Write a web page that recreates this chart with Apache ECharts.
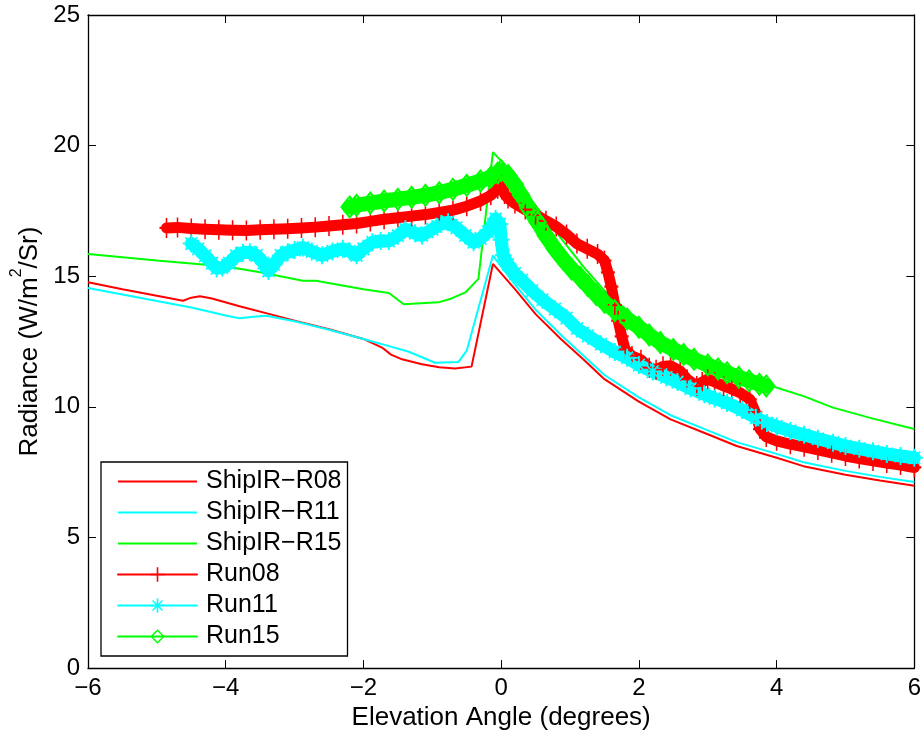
<!DOCTYPE html>
<html>
<head>
<meta charset="utf-8">
<script src="https://cdn.jsdelivr.net/npm/echarts@6/dist/echarts.min.js"></script>
<style>
html,body{margin:0;padding:0;background:#fff;}
#chart{width:924px;height:736px;}
</style>
</head>
<body>
<div id="chart"></div>
<script>
// ---- data ----
const xTicks = [-6, -4, -2, 0, 2, 4, 6];
const yTicks = [0, 5, 10, 15, 20, 25];
const seriesNames = ['ShipIR\u2212R08', 'ShipIR\u2212R11', 'ShipIR\u2212R15', 'Run08', 'Run11', 'Run15'];

const shipR08X = [-6, -5.5, -5, -4.62, -4.5, -4.375, -4.2, -3.8, -3.36, -3, -2.5, -2, -1.73, -1.6, -1.44, -1.15, -0.9, -0.67, -0.43, -0.12, 0.2, 0.5, 0.87, 1.2, 1.5, 2.0, 2.46, 3.0, 3.42, 4.0, 4.39, 5.0, 5.5, 6.0];
const shipR08Y = [14.77, 14.5, 14.25, 14.06, 14.18, 14.23, 14.15, 13.85, 13.55, 13.3, 12.97, 12.6, 12.27, 12.0, 11.82, 11.63, 11.52, 11.47, 11.54, 15.47, 14.51, 13.55, 12.59, 11.8, 11.06, 10.2, 9.52, 8.95, 8.5, 8.05, 7.73, 7.4, 7.18, 6.98];

const shipR11X = [-6, -5.5, -5, -4.5, -4, -3.8, -3.6, -3.41, -3, -2.5, -2, -1.73, -1.34, -0.96, -0.62, -0.5, -0.12, 0.2, 0.5, 0.87, 1.2, 1.5, 2.0, 2.46, 3.0, 3.42, 4.0, 4.39, 5.0, 5.5, 6.0];
const shipR11Y = [14.55, 14.3, 14.05, 13.8, 13.5, 13.39, 13.45, 13.49, 13.28, 12.95, 12.6, 12.4, 12.11, 11.69, 11.72, 12.15, 15.79, 14.68, 13.72, 12.75, 11.95, 11.22, 10.36, 9.68, 9.1, 8.65, 8.2, 7.88, 7.55, 7.32, 7.12];

const shipR15X = [-6, -5, -4, -3.5, -2.88, -2.69, -2, -1.63, -1.415, -0.91, -0.72, -0.52, -0.33, -0.12, 0.2, 0.5, 0.87, 1.2, 1.5, 2.0, 2.46, 3.0, 3.42, 3.95, 4.4, 4.82, 5.4, 6.0];
const shipR15Y = [15.85, 15.6, 15.37, 15.15, 14.83, 14.83, 14.5, 14.36, 13.93, 14.0, 14.15, 14.38, 14.9, 19.75, 18.85, 17.7, 16.45, 15.35, 14.45, 13.3, 12.45, 11.7, 11.2, 10.78, 10.4, 9.97, 9.55, 9.15];

const run08X = [-4.86, -4.7, -4.5, -4.3, -4.1, -3.9, -3.7, -3.5, -3.3, -3.1, -2.9, -2.7, -2.5, -2.3, -2.1, -1.9, -1.7, -1.5, -1.3, -1.1, -0.9, -0.7, -0.5, -0.3, -0.15, -0.05, 0.0, 0.05, 0.1, 0.2, 0.35, 0.5, 0.65, 0.8, 0.95, 1.1, 1.25, 1.4, 1.5, 1.55, 1.6, 1.65, 1.7, 1.75, 1.8, 1.9, 2.03, 2.15, 2.25, 2.35, 2.46, 2.6, 2.7, 2.84, 2.92, 3.0, 3.1, 3.23, 3.35, 3.47, 3.61, 3.69, 3.76, 3.85, 4.0, 4.2, 4.4, 4.6, 4.8, 5.0, 5.2, 5.4, 5.6, 5.8, 6.0];
const run08Y = [16.85, 16.87, 16.83, 16.8, 16.78, 16.76, 16.75, 16.78, 16.8, 16.82, 16.85, 16.88, 16.92, 16.97, 17.02, 17.1, 17.18, 17.24, 17.3, 17.36, 17.44, 17.53, 17.68, 17.88, 18.1, 18.35, 18.48, 18.15, 17.98, 17.78, 17.55, 17.35, 17.12, 16.9, 16.6, 16.25, 16.05, 15.85, 15.6, 15.15, 14.6, 13.9, 13.3, 12.7, 12.2, 11.95, 11.8, 11.5, 11.42, 11.55, 11.57, 11.37, 11.06, 10.8, 10.95, 11.06, 10.95, 10.8, 10.68, 10.54, 10.29, 9.8, 9.15, 8.85, 8.7, 8.57, 8.47, 8.35, 8.24, 8.12, 8.02, 7.93, 7.85, 7.77, 7.68];

const run11X = [-4.5, -4.4, -4.3, -4.2, -4.13, -4.05, -3.95, -3.85, -3.75, -3.65, -3.55, -3.45, -3.38, -3.3, -3.2, -3.1, -3.0, -2.88, -2.75, -2.6, -2.45, -2.3, -2.2, -2.1, -2.0, -1.87, -1.75, -1.63, -1.5, -1.39, -1.25, -1.15, -1.0, -0.87, -0.77, -0.65, -0.52, -0.4, -0.3, -0.19, -0.08, -0.02, 0.0, 0.03, 0.1, 0.2, 0.3, 0.45, 0.6, 0.78, 0.95, 1.1, 1.26, 1.45, 1.65, 1.83, 2.0, 2.2, 2.4, 2.56, 2.75, 2.95, 3.1, 3.28, 3.5, 3.7, 3.86, 4.0, 4.2, 4.4, 4.6, 4.82, 5.0, 5.2, 5.4, 5.6, 5.8, 6.0];
const run11Y = [16.25, 16.05, 15.78, 15.5, 15.3, 15.33, 15.5, 15.78, 15.9, 15.92, 15.8, 15.5, 15.2, 15.45, 15.8, 15.92, 16.0, 16.1, 15.95, 15.8, 15.95, 16.05, 15.95, 15.8, 16.05, 16.3, 16.35, 16.35, 16.55, 16.8, 16.65, 16.56, 16.8, 17.0, 17.07, 16.85, 16.56, 16.3, 16.45, 16.7, 17.2, 17.0, 16.4, 15.8, 15.45, 15.1, 14.85, 14.45, 14.1, 13.74, 13.4, 13.0, 12.72, 12.4, 12.1, 11.88, 11.6, 11.35, 11.13, 10.95, 10.7, 10.48, 10.32, 10.15, 9.88, 9.58, 9.38, 9.25, 9.08, 8.93, 8.78, 8.63, 8.5, 8.4, 8.3, 8.2, 8.12, 8.05];

const run15X = [-2.2, -2.1, -1.9, -1.7, -1.5, -1.3, -1.1, -0.9, -0.7, -0.5, -0.3, -0.15, -0.05, 0.0, 0.1, 0.2, 0.29, 0.4, 0.53, 0.65, 0.78, 0.9, 1.02, 1.15, 1.26, 1.38, 1.5, 1.65, 1.83, 2.0, 2.15, 2.31, 2.5, 2.65, 2.8, 3.0, 3.15, 3.28, 3.45, 3.6, 3.75, 3.85];
const run15Y = [17.65, 17.72, 17.8, 17.88, 17.95, 18.02, 18.1, 18.2, 18.33, 18.48, 18.65, 18.8, 18.95, 19.05, 18.86, 18.5, 18.1, 17.6, 17.07, 16.55, 16.05, 15.65, 15.28, 14.95, 14.64, 14.3, 14.0, 13.68, 13.36, 13.05, 12.75, 12.46, 12.2, 12.0, 11.82, 11.6, 11.45, 11.31, 11.13, 11.0, 10.87, 10.8];

// ---- chart ----
const FONT = "'Liberation Sans', Arial, Helvetica, sans-serif";
const RED = '#ff0000', CYAN = '#00ffff', GREEN = '#00ff00';
const PLUS = 'path://M4.45,0H5.55V4.45H10V5.55H5.55V10H4.45V5.55H0V4.45H4.45Z';
const STAR = 'path://M4.45,0H5.55V4.45H10V5.55H5.55V10H4.45V5.55H0V4.45H4.45Z M1.2,1.9L1.9,1.2L8.8,8.1L8.1,8.8Z M8.1,1.2L8.8,1.9L1.9,8.8L1.2,8.1Z';
const DIAM = 'path://M5,0L10,5L5,10L0,5Z M5,1.4L1.4,5L5,8.6L8.6,5Z';

function zip(xs, ys) { return xs.map((x, i) => [x, ys[i]]); }
const fmt = v => String(v).replace('-', '\u2212');

function lineSeries(name, xs, ys, color) {
  return {
    name, type: 'line', data: zip(xs, ys), symbol: 'circle', showSymbol: false,
    lineStyle: { color, width: 2 }, itemStyle: { color },
    animation: false, silent: true
  };
}
function runSeries(name, xs, ys, color, symbol, size, width) {
  return {
    name, type: 'line', data: zip(xs, ys), symbol, symbolSize: size, showSymbol: true,
    showAllSymbol: true,
    lineStyle: { color, width, cap: 'round', join: 'round' }, itemStyle: { color, opacity: 1 },
    animation: false, silent: true
  };
}

const axisCommon = {
  axisLine: { show: true, onZero: false, lineStyle: { color: '#000', width: 1.3 } },
  axisTick: { show: true, inside: true, length: 8, lineStyle: { color: '#000', width: 1 } },
  splitLine: { show: false }
};

const chart = echarts.init(document.getElementById('chart'), null, { renderer: 'canvas' });
chart.setOption({
  backgroundColor: '#fff',
  animation: false,
  grid: { left: 88, right: 6, top: 15, bottom: 67, containLabel: false },
  xAxis: [
    Object.assign({
      type: 'value', min: xTicks[0], max: xTicks[xTicks.length - 1], interval: 2, position: 'bottom',
      name: 'Elevation Angle (degrees)', nameLocation: 'middle', nameGap: 36,
      nameTextStyle: { fontFamily: FONT, fontSize: 26, color: '#000' },
      axisLabel: { margin: 8, fontFamily: FONT, fontSize: 24, color: '#000', formatter: fmt }
    }, axisCommon),
    Object.assign({
      type: 'value', min: xTicks[0], max: xTicks[xTicks.length - 1], interval: 2, position: 'top',
      axisLabel: { show: false }
    }, axisCommon)
  ],
  yAxis: [
    Object.assign({
      type: 'value', min: yTicks[0], max: yTicks[yTicks.length - 1], interval: 5, position: 'left',
      name: '{a|Radiance (W/m}{s|2}{a|/Sr)}', nameLocation: 'middle', nameGap: 42,
      nameTextStyle: {
        fontFamily: FONT, color: '#000',
        rich: {
          a: { fontFamily: FONT, fontSize: 26, lineHeight: 34, color: '#000', verticalAlign: 'bottom' },
          s: { fontFamily: FONT, fontSize: 16, lineHeight: 16, color: '#000', verticalAlign: 'top' }
        }
      },
      axisLabel: { margin: 8, fontFamily: FONT, fontSize: 24, color: '#000', formatter: fmt }
    }, axisCommon),
    Object.assign({
      type: 'value', min: yTicks[0], max: yTicks[yTicks.length - 1], interval: 5, position: 'right',
      axisLabel: { show: false }
    }, axisCommon)
  ],
  legend: {
    orient: 'vertical', left: 101, top: 462, z: 10,
    backgroundColor: '#fff', borderColor: '#000', borderWidth: 1.3, borderRadius: 0,
    padding: [7, 6, 7, 16], itemGap: 6, itemWidth: 79, itemHeight: 18,
    textStyle: { fontFamily: FONT, fontSize: 25, lineHeight: 25, color: '#000', padding: [0, 0, 0, 4] },
    selectedMode: false,
    data: [
      { name: seriesNames[0], itemStyle: { opacity: 0 } },
      { name: seriesNames[1], itemStyle: { opacity: 0 } },
      { name: seriesNames[2], itemStyle: { opacity: 0 } },
      { name: seriesNames[3], lineStyle: { width: 2 } },
      { name: seriesNames[4], lineStyle: { width: 2 } },
      { name: seriesNames[5], lineStyle: { width: 2 } }
    ]
  },
  series: [
    lineSeries(seriesNames[0], shipR08X, shipR08Y, RED),
    lineSeries(seriesNames[1], shipR11X, shipR11Y, CYAN),
    lineSeries(seriesNames[2], shipR15X, shipR15Y, GREEN),
    runSeries(seriesNames[3], run08X, run08Y, RED, PLUS, [14, 20], 11),
    runSeries(seriesNames[4], run11X, run11Y, CYAN, STAR, [17, 18], 13),
    runSeries(seriesNames[5], run15X, run15Y, GREEN, DIAM, [19, 24], 15)
  ]
});
</script>
</body>
</html>
